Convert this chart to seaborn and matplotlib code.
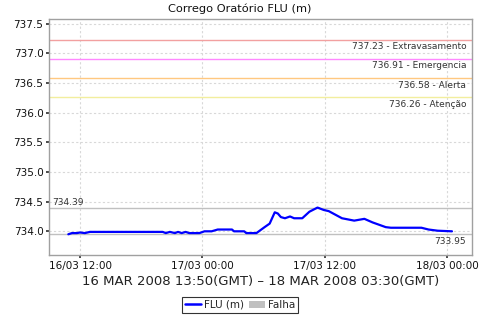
import matplotlib
matplotlib.use("Agg")
import matplotlib.pyplot as plt
import matplotlib.dates as mdates
from matplotlib.lines import Line2D
from matplotlib.patches import Patch
import seaborn as sns
import pandas as pd
import numpy as np

# hours after 16/03/2008 00:00 (local time)
hours = [10.83, 11.19, 11.68, 11.97, 12.46, 12.95, 20.1, 20.4, 20.8, 21.3, 21.6, 21.96,
         22.35, 22.7, 23.7, 24.2, 24.9, 25.5, 26.9, 27.1, 28.1, 28.3, 29.3, 30.1, 30.6,
         31.1, 31.4, 31.7, 32.1, 32.6, 33.0, 33.8, 34.5, 35.3, 35.9, 36.4, 37.7, 38.9,
         39.9, 40.7, 42.0, 42.5, 45.5, 46.2, 47.1, 48.5]
levels = [733.95, 733.97, 733.97, 733.98, 733.97, 733.99, 733.99, 733.97, 733.99, 733.97,
          733.99, 733.97, 733.99, 733.97, 733.97, 734.00, 734.00, 734.03, 734.03, 734.00,
          734.00, 733.97, 733.97, 734.07, 734.13, 734.32, 734.30, 734.24, 734.22, 734.25,
          734.22, 734.22, 734.33, 734.40, 734.36, 734.34, 734.22, 734.18, 734.21, 734.15,
          734.07, 734.06, 734.06, 734.03, 734.01, 734.00]

marker_values = [737.23, 736.91, 736.58, 736.26]
marker_names = ["Extravasamento", "Emergencia", "Alerta", "Atenção"]
marker_colors = ["#F2A0A0", "#FF88FF", "#FFC880", "#F2EE9E"]
max_val = 734.39
min_val = 733.95

start = pd.Timestamp("2008-03-16 00:00")
df = pd.DataFrame({"time": [start + pd.Timedelta(hours=h) for h in hours],
                   "FLU (m)": levels})

sns.set_theme(style="white")
plt.rcParams["font.family"] = ["DejaVu Sans"]

fig = plt.figure(figsize=(4.8, 3.2), dpi=100)
ax = fig.add_axes([0.102, 0.203, 0.881, 0.738])

for v, c in zip(marker_values, marker_colors):
    ax.axhline(v, color=c, lw=1.0, zorder=2)
ax.axhline(max_val, color="#C0C0C0", lw=1.0, zorder=2)
ax.axhline(min_val, color="#C0C0C0", lw=1.0, zorder=2)

sns.lineplot(data=df, x="time", y="FLU (m)", ax=ax, color="#0000FF", lw=1.6, zorder=3)

ax.set_ylim(733.60, 737.58)
ax.set_xlim(start + pd.Timedelta(hours=8.93), start + pd.Timedelta(hours=50.45))
ax.set_yticks([734.0, 734.5, 735.0, 735.5, 736.0, 736.5, 737.0, 737.5])
ax.yaxis.set_major_formatter(matplotlib.ticker.FormatStrFormatter("%.1f"))
ax.xaxis.set_major_locator(mdates.HourLocator(byhour=[0, 12]))
ax.xaxis.set_major_formatter(mdates.DateFormatter("%d/%m %H:%M"))

ax.grid(True, color="#D8D8D8", ls=(0, (2, 2)), lw=0.8)
ax.set_axisbelow(True)
for s in ax.spines.values():
    s.set_color("#A0A0A0")
    s.set_linewidth(1.0)
ax.tick_params(axis="both", labelsize=7.5, colors="#333333", length=2, pad=2,
               bottom=True, left=True, direction="out")
for lab in ax.get_xticklabels() + ax.get_yticklabels():
    lab.set_color("#111111")
ax.set_ylabel("")
ax.set_xlabel("16 MAR 2008 13:50(GMT) – 18 MAR 2008 03:30(GMT)", fontsize=9.5,
              color="#222222", labelpad=3)

for v, n in zip(marker_values, marker_names):
    ax.annotate(f"{v:.2f} - {n}", xy=(1, v), xycoords=("axes fraction", "data"),
                xytext=(-4, -2), textcoords="offset points", ha="right", va="top",
                fontsize=6.5, color="#333333")
ax.annotate(f"{max_val:.2f}", xy=(0, max_val), xycoords=("axes fraction", "data"),
            xytext=(2, 1), textcoords="offset points", ha="left", va="bottom",
            fontsize=6.5, color="#333333")
ax.annotate(f"{min_val:.2f}", xy=(1, min_val), xycoords=("axes fraction", "data"),
            xytext=(-4, -2), textcoords="offset points", ha="right", va="top",
            fontsize=6.5, color="#333333")

fig.text(0.5, 0.972, "Corrego Oratório FLU (m)", ha="center", va="center",
         fontsize=8.2, color="#111111")

handles = [Line2D([0], [0], color="#0000FF", lw=1.8),
           Patch(facecolor="#C0C0C0", edgecolor="none")]
leg = fig.legend(handles, ["FLU (m)", "Falha"], loc="center", bbox_to_anchor=(0.5, 0.047),
                 ncol=2, fontsize=7.5, frameon=True, fancybox=False, handlelength=1.5,
                 handleheight=0.6, handletextpad=0.3, columnspacing=0.5,
                 borderpad=0.25, borderaxespad=0)
leg.get_frame().set_edgecolor("black")
leg.get_frame().set_linewidth(0.8)

fig.savefig("out.png", dpi=100, facecolor="white")
